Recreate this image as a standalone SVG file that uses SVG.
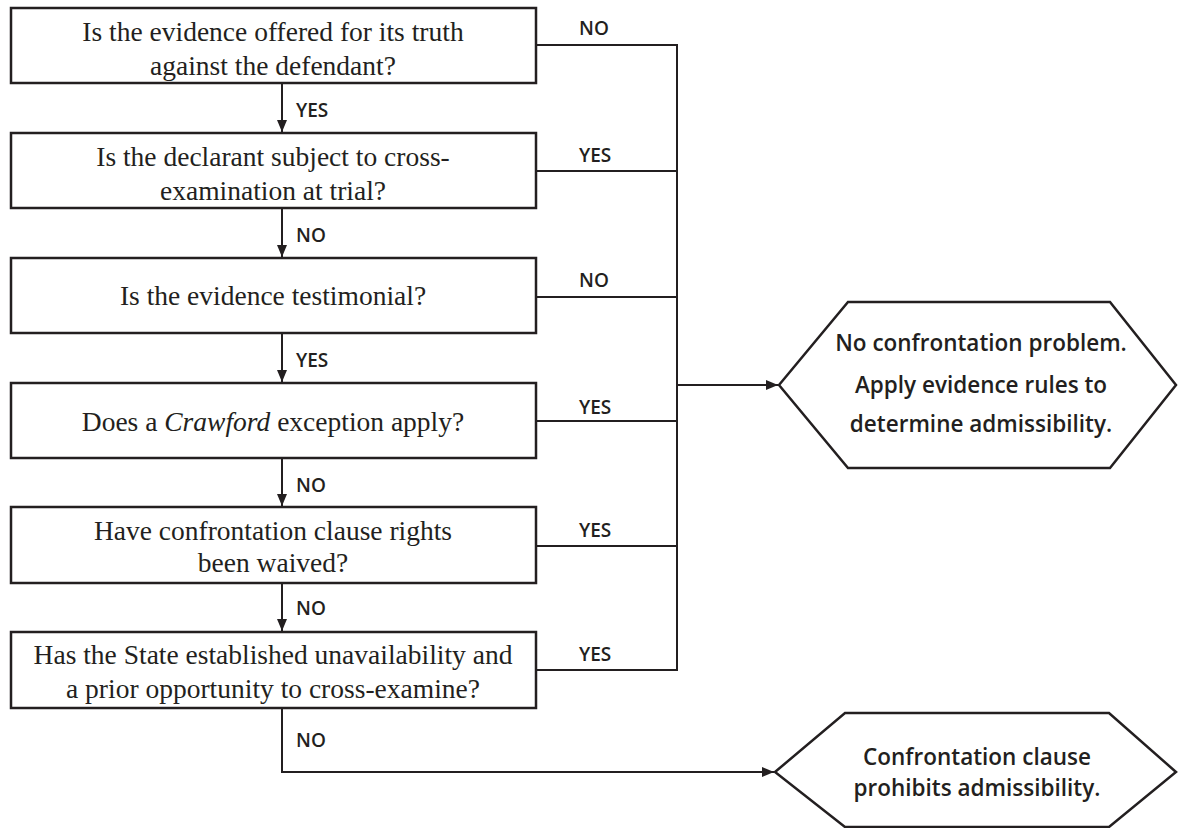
<svg xmlns="http://www.w3.org/2000/svg" width="1178" height="828" viewBox="0 0 1178 828">
<style>
.box{fill:#fff;stroke:#231f20;stroke-width:2.5}
.hex{fill:#fff;stroke:#231f20;stroke-width:2.5}
.q{font-family:"Liberation Serif","DejaVu Serif",serif;font-size:27.5px;fill:#231f20;text-anchor:middle}
.lbl{font-family:"Open Sans","Noto Sans",sans-serif;font-weight:600;font-size:19px;fill:#231f20}
.h{font-family:"Open Sans","Noto Sans",sans-serif;font-weight:600;font-size:22.5px;fill:#231f20;text-anchor:middle}
.ln{fill:none;stroke:#231f20;stroke-width:2}
</style>
<defs>
<marker id="ah" viewBox="0 0 12 10" refX="12" refY="5" markerWidth="12" markerHeight="10" markerUnits="userSpaceOnUse" orient="auto">
<path d="M0,0 L12,5 L0,10 Z" fill="#231f20"/>
</marker>
</defs>
<rect width="1178" height="828" fill="#fff"/>
<g id="connectors">
<path class="ln" d="M282,83 V132" marker-end="url(#ah)"/>
<path class="ln" d="M282,208 V257" marker-end="url(#ah)"/>
<path class="ln" d="M282,333 V382" marker-end="url(#ah)"/>
<path class="ln" d="M282,458 V506" marker-end="url(#ah)"/>
<path class="ln" d="M282,583 V631" marker-end="url(#ah)"/>
<path class="ln" d="M536,45 H677 V670 H536"/>
<path class="ln" d="M536,171 H677"/>
<path class="ln" d="M536,297 H677"/>
<path class="ln" d="M536,421 H677"/>
<path class="ln" d="M536,546 H677"/>
<path class="ln" d="M677,385 H778" marker-end="url(#ah)"/>
<path class="ln" d="M282,708 V772 H774" marker-end="url(#ah)"/>
<text class="lbl" x="296" y="117">YES</text>
<text class="lbl" x="296" y="242">NO</text>
<text class="lbl" x="296" y="367">YES</text>
<text class="lbl" x="296" y="492">NO</text>
<text class="lbl" x="296" y="615">NO</text>
<text class="lbl" x="296" y="747">NO</text>
<text class="lbl" x="579" y="35">NO</text>
<text class="lbl" x="579" y="162">YES</text>
<text class="lbl" x="579" y="287">NO</text>
<text class="lbl" x="579" y="414">YES</text>
<text class="lbl" x="579" y="537">YES</text>
<text class="lbl" x="579" y="661">YES</text>
</g>
<g id="q1"><rect class="box" x="11" y="8" width="525" height="75"/>
<text class="q" x="273" y="41">Is the evidence offered for its truth</text>
<text class="q" x="273" y="75">against the defendant?</text></g>
<g id="q2"><rect class="box" x="11" y="133" width="525" height="75"/>
<text class="q" x="273" y="166">Is the declarant subject to cross-</text>
<text class="q" x="273" y="200">examination at trial?</text></g>
<g id="q3"><rect class="box" x="11" y="258" width="525" height="75"/>
<text class="q" x="273" y="305">Is the evidence testimonial?</text></g>
<g id="q4"><rect class="box" x="11" y="383" width="525" height="75"/>
<text class="q" x="273" y="431">Does a <tspan font-style="italic">Crawford</tspan> exception apply?</text></g>
<g id="q5"><rect class="box" x="11" y="507" width="525" height="76"/>
<text class="q" x="273" y="540">Have confrontation clause rights</text>
<text class="q" x="273" y="572">been waived?</text></g>
<g id="q6"><rect class="box" x="11" y="632" width="525" height="76"/>
<text class="q" x="273" y="664">Has the State established unavailability and</text>
<text class="q" x="273" y="698">a prior opportunity to cross-examine?</text></g>
<g id="r1"><polygon class="hex" points="779,385 848,302 1110,302 1176,385 1110,468 848,468"/>
<text class="h" x="981" y="351">No confrontation problem.</text>
<text class="h" x="981" y="393">Apply evidence rules to</text>
<text class="h" x="981" y="432">determine admissibility.</text></g>
<g id="r2"><polygon class="hex" points="775,772 845,713 1109,713 1176,772 1109,827 845,827"/>
<text class="h" x="977" y="765">Confrontation clause</text>
<text class="h" x="977" y="796">prohibits admissibility.</text></g>
</svg>
